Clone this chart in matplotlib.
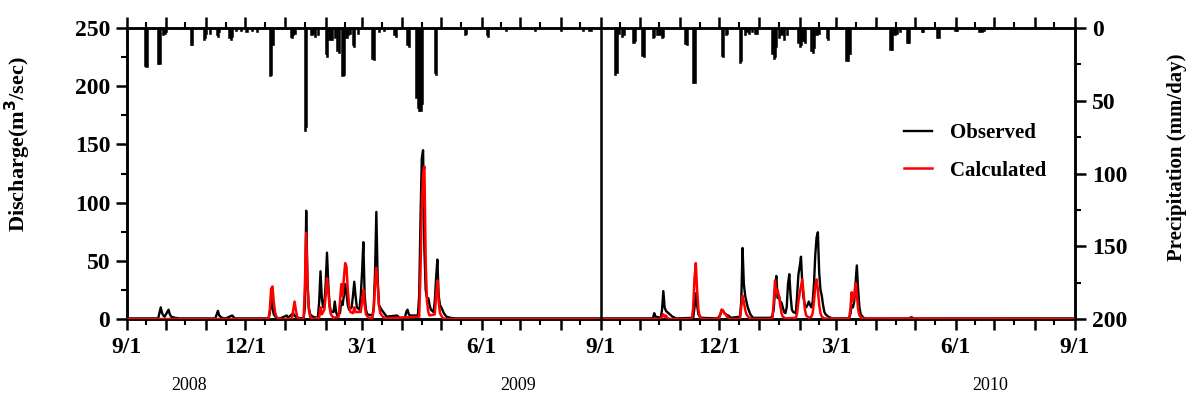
import matplotlib
matplotlib.use("Agg")
import matplotlib.pyplot as plt
import matplotlib.dates as mdates
from matplotlib.ticker import FuncFormatter, MultipleLocator
import pandas as pd

# ---------------- data ----------------
precip_dates = [
    "2008-09-15", "2008-09-16", "2008-09-25", "2008-09-26", "2008-09-29", "2008-09-30", "2008-10-01",
    "2008-10-20", "2008-10-21", "2008-10-30", "2008-10-31", "2008-11-01", "2008-11-04",
    "2008-11-09", "2008-11-10", "2008-11-11", "2008-11-19", "2008-11-20", "2008-11-21",
    "2008-11-24", "2008-11-28", "2008-12-02", "2008-12-06", "2008-12-10",
    "2008-12-20", "2008-12-21", "2008-12-22",
    "2009-01-05", "2009-01-06", "2009-01-07", "2009-01-08",
    "2009-01-16", "2009-01-17", "2009-01-21", "2009-01-22", "2009-01-24", "2009-01-26",
    "2009-02-01", "2009-02-02", "2009-02-04", "2009-02-05", "2009-02-06", "2009-02-08",
    "2009-02-10", "2009-02-11", "2009-02-14", "2009-02-15", "2009-02-17", "2009-02-18", "2009-02-20",
    "2009-02-22", "2009-02-23", "2009-02-26", "2009-03-09", "2009-03-10", "2009-03-14", "2009-03-18",
    "2009-03-26", "2009-03-27", "2009-04-05", "2009-04-06",
    "2009-04-12", "2009-04-13", "2009-04-14", "2009-04-15", "2009-04-16",
    "2009-04-26", "2009-04-27", "2009-05-19", "2009-05-20", "2009-06-05", "2009-06-06",
    "2009-06-20", "2009-07-12", "2009-08-01", "2009-08-18", "2009-08-23", "2009-08-24",
    "2009-09-12", "2009-09-13", "2009-09-15", "2009-09-17", "2009-09-19",
    "2009-09-26", "2009-09-27", "2009-10-03", "2009-10-04",
    "2009-10-11", "2009-10-12", "2009-10-14", "2009-10-16", "2009-10-18", "2009-10-19",
    "2009-11-05", "2009-11-06", "2009-11-11", "2009-11-12",
    "2009-12-03", "2009-12-04", "2009-12-06", "2009-12-07", "2009-12-17", "2009-12-18",
    "2009-12-21", "2009-12-22", "2009-12-24", "2009-12-26", "2009-12-29", "2009-12-30",
    "2010-01-11", "2010-01-12", "2010-01-13", "2010-01-14",
    "2010-01-16", "2010-01-18", "2010-01-20", "2010-01-22",
    "2010-01-31", "2010-02-01", "2010-02-02", "2010-02-03", "2010-02-04", "2010-02-05",
    "2010-02-10", "2010-02-11", "2010-02-12", "2010-02-14", "2010-02-16",
    "2010-02-22", "2010-02-23", "2010-03-09", "2010-03-10", "2010-03-11", "2010-03-12",
    "2010-04-12", "2010-04-13", "2010-04-15", "2010-04-17", "2010-04-19",
    "2010-04-25", "2010-04-26", "2010-05-06", "2010-05-07", "2010-05-18", "2010-05-19",
    "2010-06-01", "2010-06-02", "2010-06-19", "2010-06-21", "2010-06-23", "2010-07-25",
]
precip_mm = [
    26, 27, 25, 25, 5, 4, 3,
    12, 12, 8, 7, 4, 4,
    5, 6, 3, 7, 8, 6,
    2, 2, 3, 2, 3,
    33, 32, 12,
    6, 7, 5, 4,
    71, 68, 5, 4, 6, 5,
    18, 20, 8, 6, 8, 7,
    16, 17, 33, 32, 7, 5, 4,
    12, 13, 4, 21, 22, 3, 2,
    5, 6, 12, 13,
    48, 55, 57, 57, 52,
    31, 32, 5, 4, 5, 6,
    2, 2, 2, 2, 2, 2,
    32, 31, 4, 6, 5,
    10, 9, 19, 20,
    7, 6, 5, 5, 7, 6,
    11, 12, 38, 38,
    19, 20, 5, 4, 24, 23,
    5, 3, 4, 3, 4, 4,
    18, 21, 20, 13,
    7, 5, 8, 5,
    10, 13, 12, 9, 9, 10,
    16, 17, 14, 5, 4,
    7, 8, 23, 23, 18, 18,
    15, 15, 5, 4, 3,
    10, 10, 3, 3, 7, 7,
    2, 2, 3, 3, 2, 1,
]

obs_dates = [
    "2008-09-01", "2008-09-25", "2008-09-27", "2008-09-28", "2008-09-29", "2008-09-30",
    "2008-10-03", "2008-10-04", "2008-10-05", "2008-10-08", "2008-10-12",
    "2008-11-08", "2008-11-10", "2008-11-11", "2008-11-13", "2008-11-16", "2008-11-21", "2008-11-23",
    "2008-12-19", "2008-12-20", "2008-12-21", "2008-12-22", "2008-12-23", "2008-12-25", "2008-12-28",
    "2009-01-02", "2009-01-03", "2009-01-07", "2009-01-08", "2009-01-10",
    "2009-01-15", "2009-01-16", "2009-01-17", "2009-01-18", "2009-01-19", "2009-01-20", "2009-01-22",
    "2009-01-25", "2009-01-26", "2009-01-27", "2009-01-28", "2009-01-29", "2009-01-30",
    "2009-01-31", "2009-02-01", "2009-02-02", "2009-02-03", "2009-02-04", "2009-02-05",
    "2009-02-07", "2009-02-08", "2009-02-09", "2009-02-10",
    "2009-02-12", "2009-02-13", "2009-02-14", "2009-02-15", "2009-02-16", "2009-02-17",
    "2009-02-18", "2009-02-19", "2009-02-21", "2009-02-22", "2009-02-23", "2009-02-24", "2009-02-25",
    "2009-02-27", "2009-02-28", "2009-03-01", "2009-03-02", "2009-03-03", "2009-03-04", "2009-03-05",
    "2009-03-09", "2009-03-10", "2009-03-11", "2009-03-12", "2009-03-13", "2009-03-14",
    "2009-03-16", "2009-03-18", "2009-03-20", "2009-03-28", "2009-03-30",
    "2009-04-03", "2009-04-04", "2009-04-05", "2009-04-06", "2009-04-07", "2009-04-09", "2009-04-11",
    "2009-04-13", "2009-04-14", "2009-04-15", "2009-04-16", "2009-04-17", "2009-04-18",
    "2009-04-19", "2009-04-20", "2009-04-21", "2009-04-22", "2009-04-23",
    "2009-04-25", "2009-04-26", "2009-04-27", "2009-04-28", "2009-04-29", "2009-04-30",
    "2009-05-01", "2009-05-03", "2009-05-05", "2009-05-08", "2009-05-12",
    "2009-10-11", "2009-10-12", "2009-10-13", "2009-10-17", "2009-10-18", "2009-10-19",
    "2009-10-20", "2009-10-21", "2009-10-22", "2009-10-24", "2009-10-26", "2009-10-29",
    "2009-11-11", "2009-11-12", "2009-11-13", "2009-11-14", "2009-11-15", "2009-11-17",
    "2009-11-30", "2009-12-02", "2009-12-03", "2009-12-04", "2009-12-05", "2009-12-06",
    "2009-12-08", "2009-12-10",
    "2009-12-17", "2009-12-18", "2009-12-19", "2009-12-20", "2009-12-21", "2009-12-22",
    "2009-12-23", "2009-12-25", "2009-12-27",
    "2010-01-10", "2010-01-11", "2010-01-12", "2010-01-13", "2010-01-14", "2010-01-15",
    "2010-01-16", "2010-01-17", "2010-01-18", "2010-01-19", "2010-01-20", "2010-01-21",
    "2010-01-22", "2010-01-23", "2010-01-24", "2010-01-25", "2010-01-26", "2010-01-27",
    "2010-01-29", "2010-01-30", "2010-01-31", "2010-02-01", "2010-02-02", "2010-02-03",
    "2010-02-04", "2010-02-05", "2010-02-06", "2010-02-07", "2010-02-08", "2010-02-09",
    "2010-02-10", "2010-02-11", "2010-02-12", "2010-02-13", "2010-02-14", "2010-02-15",
    "2010-02-16", "2010-02-17", "2010-02-18", "2010-02-19", "2010-02-20", "2010-02-21",
    "2010-02-23", "2010-02-26",
    "2010-03-11", "2010-03-12", "2010-03-13", "2010-03-14", "2010-03-15", "2010-03-16",
    "2010-03-17", "2010-03-18", "2010-03-19", "2010-03-20", "2010-03-22", "2010-03-25",
    "2010-04-26", "2010-04-28", "2010-04-30", "2010-09-01",
]
obs_q = [
    0.5, 0.5, 10, 5, 3, 2,
    8, 4, 2, 1, 0.5,
    0.5, 7, 3, 1, 0.5, 3, 0.5,
    0.5, 5, 19, 10, 4, 1, 0.5,
    3, 1, 5, 3, 1,
    0.5, 10, 93, 30, 10, 4, 2,
    1, 2, 15, 41, 18, 10,
    14, 30, 57, 30, 12, 6,
    6, 15, 6, 3,
    5, 15, 12, 20, 30, 22,
    12, 8, 10, 20, 32, 20, 10,
    8, 20, 40, 66, 20, 8, 4,
    3, 10, 40, 92, 35, 12,
    8, 5, 2, 3, 1,
    1, 6, 8, 4, 3, 3, 3,
    3, 20, 85, 138, 145, 60,
    25, 18, 18, 12, 8,
    6, 15, 35, 51, 20, 12,
    10, 5, 2, 1, 0.5,
    0.5, 5, 2, 1, 8, 24,
    10, 7, 6, 4, 2, 0.5,
    1, 10, 22, 12, 4, 1,
    0.5, 4, 8, 7, 5, 4,
    3, 1,
    2, 15, 61, 30, 20, 15,
    10, 4, 1,
    1, 3, 8, 25, 37, 18,
    20, 15, 14, 10, 6, 5,
    10, 30, 38.5, 20, 8, 6,
    5, 20, 38, 45, 53.5, 30,
    18, 12, 10, 12, 15, 12,
    10, 15, 30, 55, 70, 74.5,
    40, 25, 20, 12, 6, 4,
    2, 0.5,
    0.5, 4, 12, 10, 15, 30,
    46, 25, 10, 4, 1, 0.5,
    0.5, 1.5, 0.5, 0.5,
]

calc_dates = [
    "2008-09-01", "2008-12-19", "2008-12-20", "2008-12-21", "2008-12-22", "2008-12-23",
    "2008-12-24", "2008-12-25", "2008-12-27",
    "2009-01-06", "2009-01-07", "2009-01-08", "2009-01-09", "2009-01-10", "2009-01-12",
    "2009-01-15", "2009-01-16", "2009-01-17", "2009-01-18", "2009-01-19", "2009-01-20", "2009-01-22",
    "2009-01-27", "2009-01-28", "2009-01-29",
    "2009-01-31", "2009-02-01", "2009-02-02", "2009-02-03", "2009-02-04", "2009-02-05", "2009-02-07",
    "2009-02-11", "2009-02-12", "2009-02-13", "2009-02-14", "2009-02-15", "2009-02-16",
    "2009-02-17", "2009-02-18", "2009-02-19", "2009-02-20",
    "2009-02-22", "2009-02-23", "2009-02-24",
    "2009-02-28", "2009-03-01", "2009-03-02", "2009-03-03", "2009-03-04", "2009-03-06",
    "2009-03-09", "2009-03-10", "2009-03-11", "2009-03-12", "2009-03-13", "2009-03-14",
    "2009-03-15", "2009-03-17", "2009-03-19",
    "2009-04-14", "2009-04-15", "2009-04-16", "2009-04-17", "2009-04-18", "2009-04-19",
    "2009-04-20", "2009-04-21", "2009-04-22",
    "2009-04-26", "2009-04-27", "2009-04-28", "2009-04-29", "2009-04-30", "2009-05-02", "2009-05-04",
    "2009-10-17", "2009-10-18", "2009-10-19", "2009-10-20", "2009-10-21", "2009-10-22", "2009-10-24",
    "2009-11-10", "2009-11-11", "2009-11-12", "2009-11-13", "2009-11-14", "2009-11-15",
    "2009-11-16", "2009-11-18",
    "2009-12-01", "2009-12-02", "2009-12-03", "2009-12-04", "2009-12-05", "2009-12-06",
    "2009-12-07", "2009-12-09",
    "2009-12-17", "2009-12-18", "2009-12-19", "2009-12-20", "2009-12-21", "2009-12-22",
    "2009-12-24", "2009-12-26",
    "2010-01-11", "2010-01-12", "2010-01-13", "2010-01-14", "2010-01-15", "2010-01-16",
    "2010-01-17", "2010-01-18", "2010-01-19", "2010-01-21",
    "2010-01-29", "2010-01-30", "2010-01-31", "2010-02-01", "2010-02-02", "2010-02-03",
    "2010-02-04", "2010-02-05", "2010-02-06", "2010-02-08",
    "2010-02-10", "2010-02-11", "2010-02-12", "2010-02-13", "2010-02-14", "2010-02-15",
    "2010-02-16", "2010-02-17", "2010-02-18", "2010-02-20",
    "2010-03-11", "2010-03-12", "2010-03-13", "2010-03-14", "2010-03-15", "2010-03-16",
    "2010-03-17", "2010-03-18", "2010-03-19", "2010-03-21", "2010-09-01",
]
calc_q = [
    0, 0, 8, 26, 28, 15,
    6, 2, 0,
    0, 8, 15, 8, 2, 0,
    0, 30, 74, 30, 8, 2, 0,
    1, 10, 4,
    8, 20, 35, 25, 10, 4, 1,
    2, 15, 30, 20, 35, 48,
    45, 25, 12, 6,
    5, 10, 6,
    6, 15, 25, 12, 4, 1,
    1, 8, 30, 44, 30, 12,
    5, 2, 0.5,
    2, 40, 95, 125, 131, 50,
    15, 6, 3,
    4, 20, 33, 15, 5, 1, 0,
    0, 2, 4, 2, 3, 1, 0,
    0, 10, 35, 48, 25, 8,
    2, 0,
    0, 5, 8, 7, 5, 4,
    2, 0,
    0, 10, 20, 15, 8, 4,
    1, 0,
    0, 15, 33, 22, 25, 20,
    12, 5, 2, 0.5,
    1, 5, 15, 22, 28, 34,
    22, 8, 3, 1,
    2, 5, 15, 28, 34, 25,
    12, 5, 2, 0.5,
    0, 8, 23, 15, 20, 31,
    22, 8, 3, 0.5, 0,
]

month_labels = {9: "9/1", 12: "12/1", 3: "3/1", 6: "6/1"}
year_labels = ["2008", "2009", "2010"]
year_label_dates = ["2008-10-19", "2009-06-29", "2010-06-28"]

# ---------------- plot ----------------
serif = ["Liberation Serif", "DejaVu Serif"]
plt.rcParams["font.family"] = serif

fig = plt.figure(figsize=(11.87, 3.98), dpi=100)
ax = fig.add_axes([127 / 1187, 79 / 398, 948 / 1187, 291 / 398])
ax2 = ax.twinx()

pdates = pd.to_datetime(precip_dates)
ax2.bar(pdates, precip_mm, width=1.7, color="black", edgecolor="black",
        linewidth=0.4, align="center", zorder=2)
ax2.set_ylim(200, 0)

ax.plot(pd.to_datetime(obs_dates), obs_q, color="black", lw=1.7, label="Observed", zorder=3)
ax.plot(pd.to_datetime(calc_dates), calc_q, color="#ff0000", lw=1.8, label="Calculated", zorder=4)

ax.set_zorder(ax2.get_zorder() + 1)
ax.patch.set_visible(False)

x0 = pd.Timestamp("2008-09-01")
x1 = pd.Timestamp("2010-09-01")
ax.set_xlim(x0, x1)
ax.set_ylim(0, 250)
ax.axvline(pd.Timestamp("2009-09-01"), color="black", lw=1.8, zorder=5)

for a in (ax, ax2):
    for s in a.spines.values():
        s.set_linewidth(1.8)

ax.xaxis.set_major_locator(mdates.MonthLocator(bymonthday=1))
ax.xaxis.set_minor_locator(mdates.MonthLocator(bymonthday=16))
ax.xaxis.set_major_formatter(FuncFormatter(
    lambda v, p: month_labels.get(mdates.num2date(v).month, "")))
ax.tick_params(axis="x", which="major", direction="out", length=8, width=1.8,
               top=True, bottom=True, labelsize=17, pad=5)
ax.tick_params(axis="x", which="minor", direction="out", length=4, width=1.5,
               top=True, bottom=True)

ax.yaxis.set_major_locator(MultipleLocator(50))
ax.yaxis.set_minor_locator(MultipleLocator(25))
ax.tick_params(axis="y", which="major", direction="out", length=8, width=1.8, labelsize=17, pad=4)
ax.tick_params(axis="y", which="minor", direction="out", length=4, width=1.5)
ax2.yaxis.set_major_locator(MultipleLocator(50))
ax2.yaxis.set_minor_locator(MultipleLocator(25))
ax2.tick_params(axis="y", which="major", direction="out", length=8, width=1.8, labelsize=17, pad=4)
ax2.tick_params(axis="y", which="minor", direction="out", length=4, width=1.5)

for lab in ax.get_xticklabels() + ax.get_yticklabels() + ax2.get_yticklabels():
    lab.set_fontweight("bold")

ax.set_ylabel("Discharge(m$^\\mathbf{3}$/sec)", fontsize=16, fontweight="bold")
ax.yaxis.set_label_coords(-0.099, 0.60)
ax2.set_ylabel("Precipitation (mm/day)", fontsize=15, fontweight="bold")
ax2.yaxis.set_label_coords(1.097, 0.557)

leg = ax.legend(loc="center", bbox_to_anchor=(0.895, 0.575), frameon=False,
                prop={"family": serif, "weight": "bold", "size": 15},
                handlelength=1.3, handletextpad=0.9, labelspacing=0.85)

for txt, d in zip(year_labels, year_label_dates):
    xf = (pd.Timestamp(d) - x0) / (x1 - x0)
    fig.text((127 + xf * 948) / 1187, 13 / 398, txt, ha="center", va="center",
             fontsize=13, family=serif)

fig.savefig("out.png", dpi=100)
